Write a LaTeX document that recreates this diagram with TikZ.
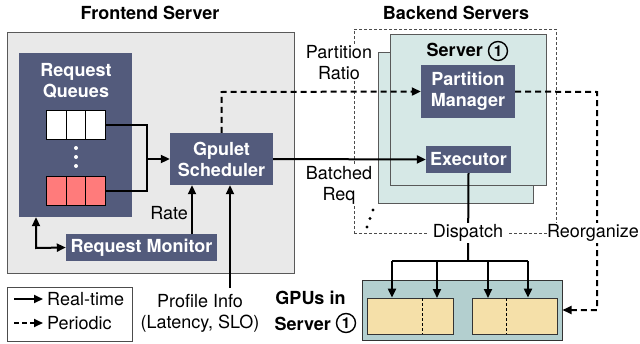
\documentclass[tikz,border=0pt]{standalone}
\usepackage{fontspec}
\setmainfont{TeX Gyre Heros}
\usetikzlibrary{arrows.meta}
\definecolor{slate}{HTML}{535B7C}
\definecolor{fegray}{HTML}{E9E9E9}
\definecolor{srv}{HTML}{D6E8E6}
\definecolor{gpubox}{HTML}{B3CFCF}
\definecolor{gpuin}{HTML}{F5E0A9}
\definecolor{qred}{HTML}{FF7B7B}
\begin{document}
\begin{tikzpicture}[x=1pt,y=-1pt,
  blk/.style={fill=slate, text=white, font=\bfseries\fontsize{18}{21}\selectfont, align=center, inner sep=0pt},
  lbl/.style={font=\fontsize{18}{21}\selectfont, align=center, inner sep=1pt},
  wlbl/.style={lbl, fill=white},
  ttl/.style={font=\bfseries\fontsize{18}{21}\selectfont, align=center, inner sep=0pt},
  arr/.style={line width=2pt, -{Triangle[length=9pt,width=8pt]}},
  darr/.style={arr, dash pattern=on 6pt off 4pt},
  tdash/.style={line width=0.8pt, dash pattern=on 3pt off 2pt},
  cnum/.style={circle, draw, line width=1.4pt, minimum size=19pt, inner sep=0pt, font=\bfseries\fontsize{15}{15}\selectfont},
  cell/.style={draw=black, line width=1pt, minimum width=19.7pt, minimum height=29pt, inner sep=0pt}
]
\useasboundingbox (0,0) rectangle (640,343);

% titles
\node[ttl] (ftitle) at (150,13) {Frontend Server};
\node[ttl] (btitle) at (456,13) {Backend Servers};

% frontend background
\node[draw=black!65, fill=fegray, line width=1pt, minimum width=287pt, minimum height=241pt, inner sep=0pt] (fe) at (150.5,152.5) {};

% request queues
\node[blk, minimum width=113pt, minimum height=164pt] (rq) at (75.5,135) {};
\node[ttl, text=white] (rqt) at (76,80.5) {Request\\Queues};
\node[cell, fill=white] (q1a) at (56.5,124.5) {};
\node[cell, fill=white] (q1b) at (76,124.5) {};
\node[cell, fill=white] (q1c) at (95.5,124.5) {};
\node[cell, fill=qred] (q2a) at (56.5,191) {};
\node[cell, fill=qred] (q2b) at (76,191) {};
\node[cell, fill=qred] (q2c) at (95.5,191) {};
\fill[white] (76,148) circle (2pt) (76,157) circle (2pt) (76,166) circle (2pt);

% scheduler, monitor
\node[blk, minimum width=103pt, minimum height=52pt] (sch) at (221.5,159) {Gpulet\\Scheduler};
\node[blk, minimum width=151pt, minimum height=27pt] (mon) at (141.5,247.5) {Request Monitor};

% backend
\node[tdash, draw=black!70, minimum width=202pt, minimum height=204pt, inner sep=0pt] (bdash) at (455,131) {};
\node[draw=black!65, fill=srv, line width=1pt, minimum width=155pt, minimum height=151pt, inner sep=0pt] (srvb) at (455.5,127.5) {};
\node[draw=black!65, fill=srv, line width=1pt, minimum width=156pt, minimum height=151pt, inner sep=0pt] (srvf) at (468,109.5) {};
\node[ttl, anchor=east] (srvt) at (483,50) {Server};
\node[cnum] (c1) at (498,51) {1};
\node[blk, minimum width=94pt, minimum height=53pt] (pm) at (468,91.5) {Partition\\Manager};
\node[blk, minimum width=85pt, minimum height=27pt] (ex) at (468.5,159.5) {Executor};
\fill (373,210) circle (1.7pt) (370,218.5) circle (1.7pt) (367,227) circle (1.7pt);

% GPUs
\node[draw=black!80, fill=gpubox, line width=1pt, minimum width=200pt, minimum height=60pt, inner sep=0pt] (gpu) at (462,310) {};
\node[draw=black!80, fill=gpuin, line width=0.8pt, minimum width=86pt, minimum height=36pt, inner sep=0pt] (g1) at (410,316) {};
\node[draw=black!80, fill=gpuin, line width=0.8pt, minimum width=85pt, minimum height=36pt, inner sep=0pt] (g2) at (514.5,316) {};
\draw[line width=0.8pt, dash pattern=on 3pt off 2pt] (422,298) -- (422,334);
\draw[line width=0.8pt, dash pattern=on 3pt off 2pt] (506,298) -- (506,334);
\node[ttl] (gput) at (310.5,298) {GPUs in};
\node[ttl, anchor=east] (gpus) at (331,324) {Server};
\node[cnum] (c2) at (346,323) {1};

% legend
\node[draw=black!70, line width=1pt, minimum width=125pt, minimum height=54pt, inner sep=0pt] (leg) at (69.5,314) {};
\coordinate (l1) at (14,299);
\coordinate (l1e) at (43,299);
\coordinate (l2) at (14,323);
\coordinate (l2e) at (43,323);
\draw[arr] (l1) -- (l1e);
\draw[arr, dash pattern=on 5pt off 3pt] (l2) -- (l2e);
\node[lbl, anchor=west, inner sep=0pt] (lrt) at (47,299) {Real-time};
\node[lbl, anchor=west, inner sep=0pt] (lpe) at (47,323) {Periodic};

% connectors frontend
\coordinate (mj) at (147,159);
\draw[line width=2pt] (q1c.east) -- (q1c.east -| mj) -- (mj);
\draw[line width=2pt] (q2c.east) -- (q2c.east -| mj) -- (mj);
\draw[arr] (mj) -- (sch.west);
\coordinate (rm) at (192,234);
\draw[arr] (rm) -- (rm |- sch.south);
\node[lbl] (rate) at (169,213) {Rate};
\coordinate (qm) at (36,248);
\draw[line width=2pt, {Triangle[length=9pt,width=8pt]}-{Triangle[length=9pt,width=8pt]}] (qm |- rq.south) -- (qm) -- (mon.west);
\coordinate (pf) at (230,288);
\draw[arr] (pf) -- (pf |- sch.south);
\node[lbl] (prof) at (200,313.5) {Profile Info\\(Latency, SLO)};

% to backend
\coordinate (su) at (221.5,92);
\draw[darr] (sch.north) -- (su) -- (pm.west);
\draw[arr] (sch.east) -- (ex.west);
\coordinate (rc) at (597,92);
\draw[darr] (pm.east) -- (rc) -- (rc |- gpu.east) -- (gpu.east);

% dispatch
\coordinate (bar) at (468,261);
\coordinate (bl) at (392,261);
\coordinate (br) at (528,261);
\draw[line width=2pt] (ex.south) -- (bar);
\draw[line width=2pt] (bl) -- (br);
\draw[arr] (bl) -- (bl |- g1.north);
\draw[arr] (437,261) -- (437,298);
\draw[arr] (488,261) -- (488,298);
\draw[arr] (br) -- (br |- g2.north);

% labels over lines
\node[wlbl] (pr) at (339,63) {Partition\\Ratio};
\node[wlbl] (br2) at (339,185) {Batched\\Req};
\node[wlbl, inner xsep=5pt] (disp) at (468,233) {Dispatch};
\node[wlbl, inner xsep=0.5pt, anchor=east] (reorg) at (639.5,233) {Reorganize};
\end{tikzpicture}
\end{document}
